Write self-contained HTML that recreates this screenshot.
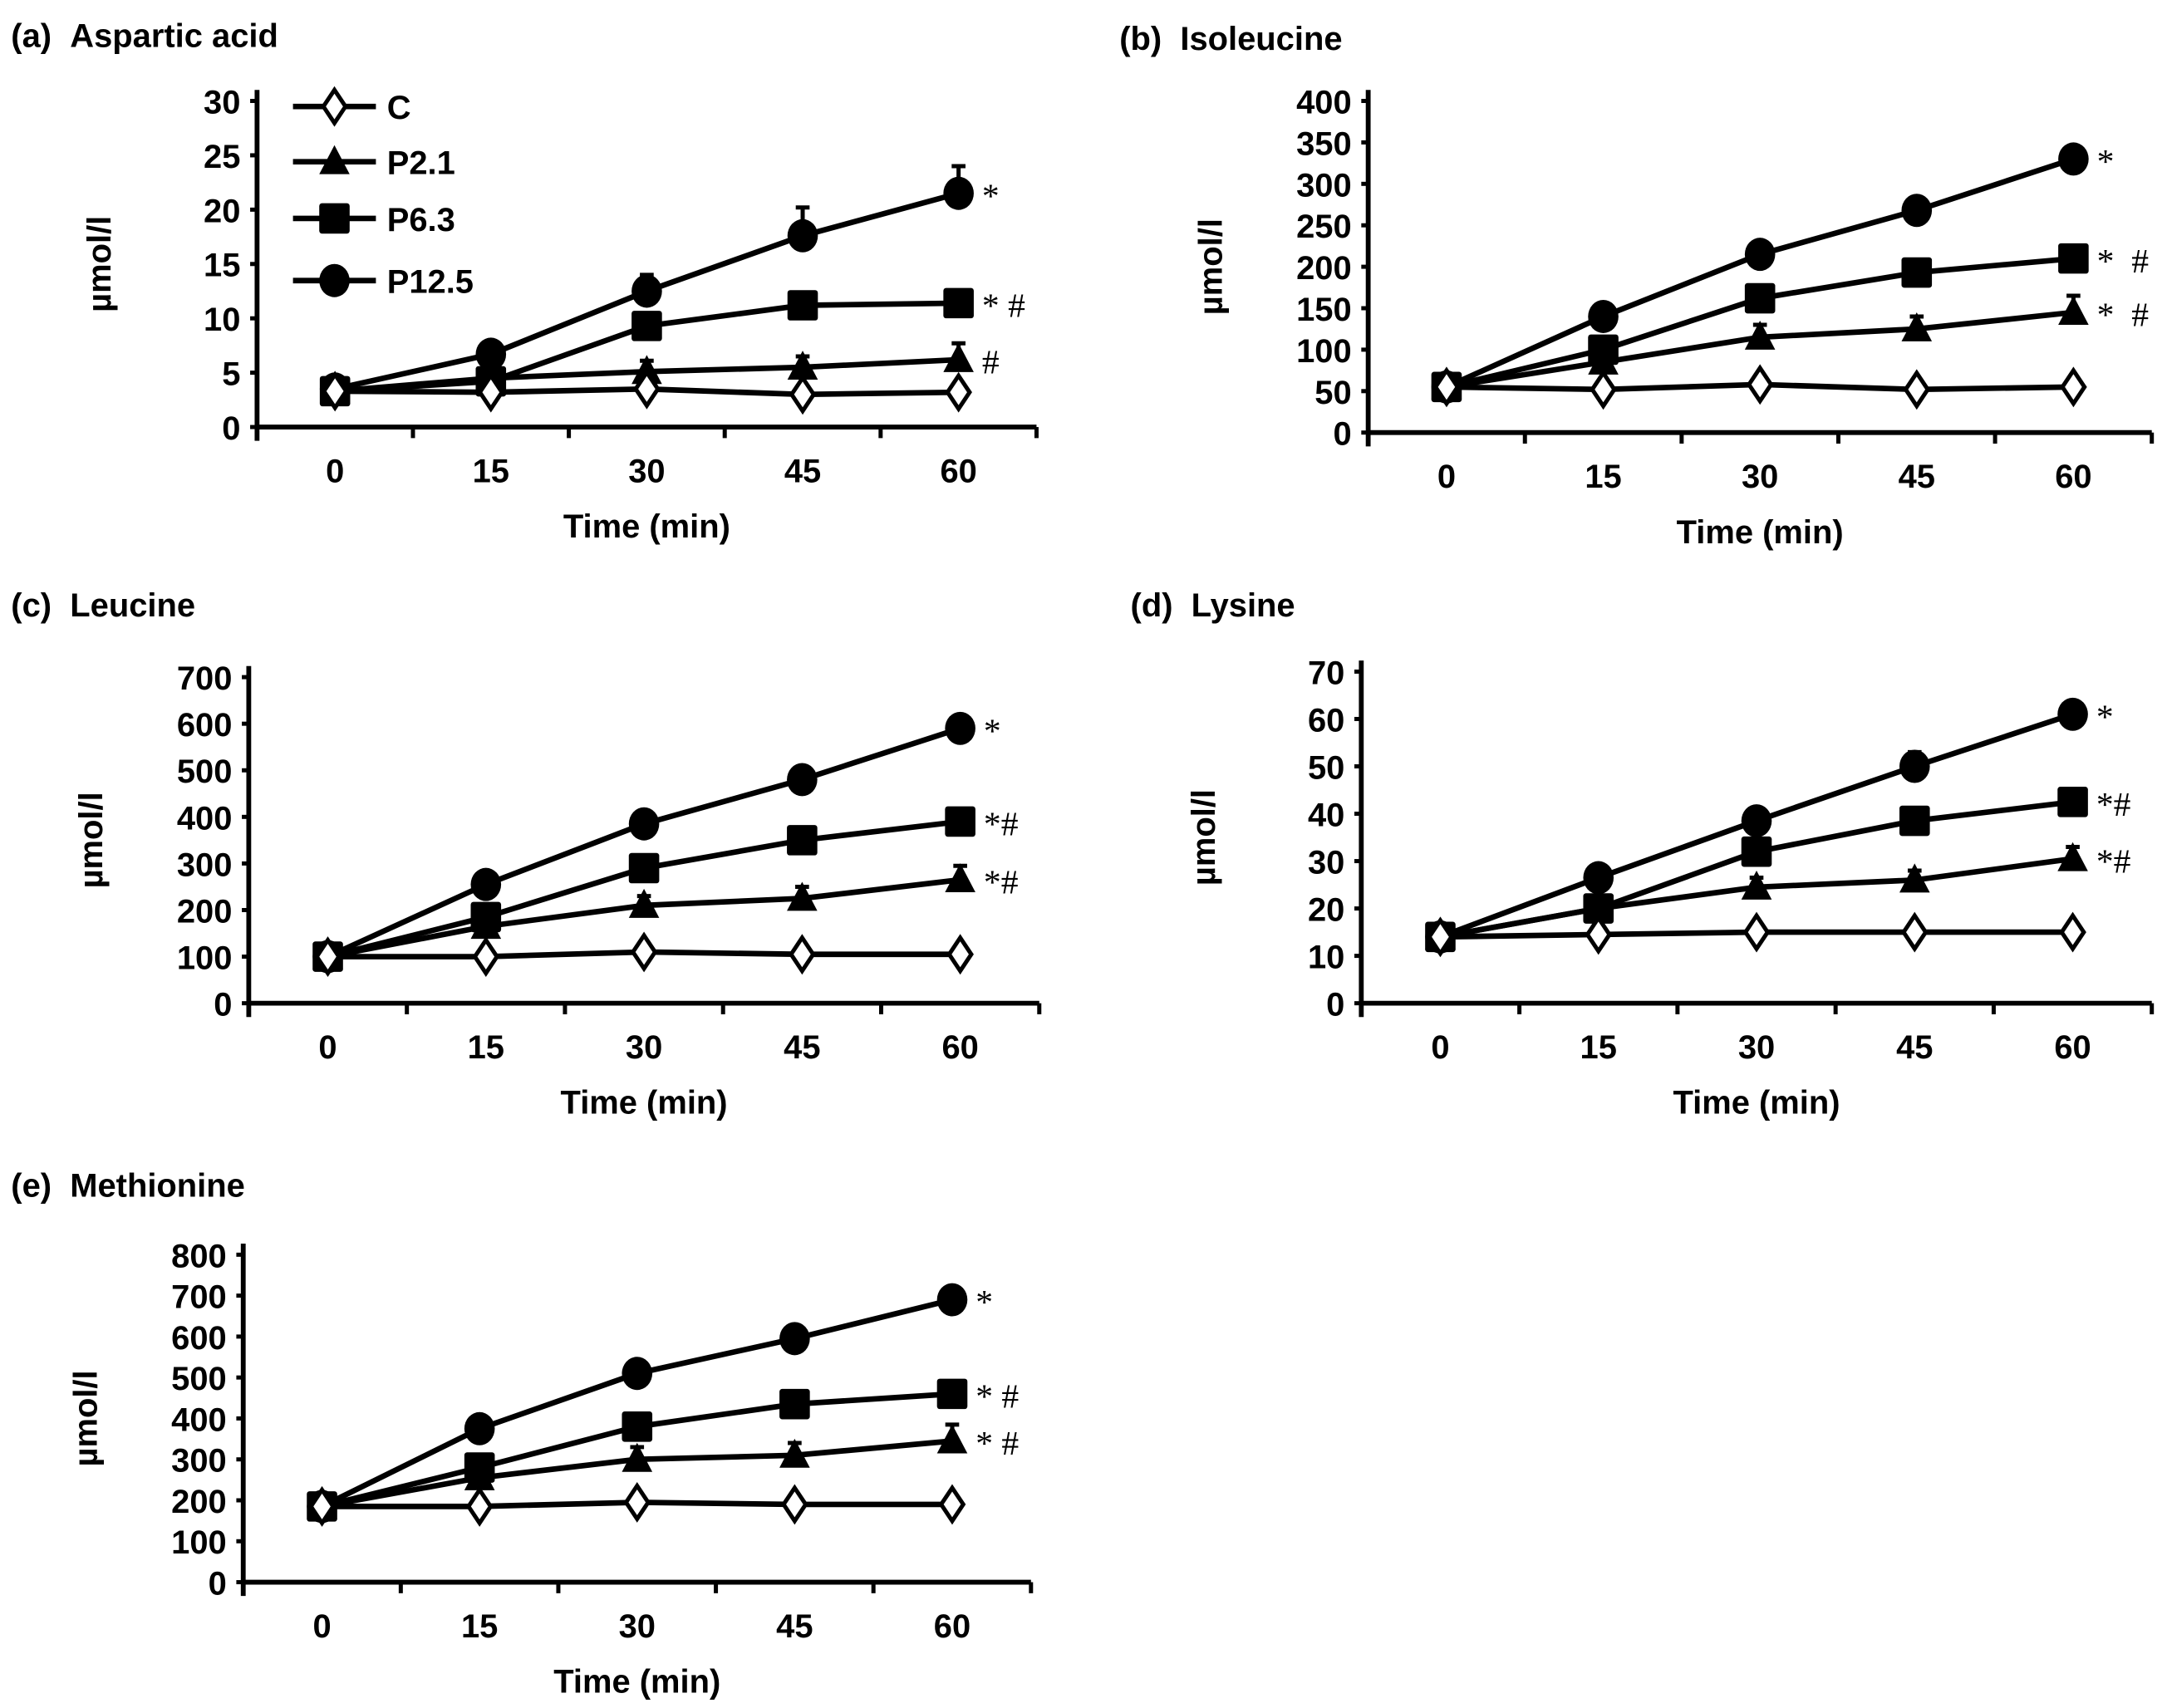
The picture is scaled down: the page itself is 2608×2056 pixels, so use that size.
<!DOCTYPE html>
<html><head><meta charset="utf-8">
<style>
html,body{margin:0;padding:0;background:#fff;}
svg{display:block;font-family:"Liberation Sans",Arial,sans-serif;}
</style></head>
<body>
<svg id="fig" width="2608" height="2056" viewBox="0 0 1568 1236" xmlns="http://www.w3.org/2000/svg">
<rect width="1568" height="1236" fill="#fff"/>
</svg>
<script>
const categories = ["0","15","30","45","60"];
const seriesNames = ["C","P2.1","P6.3","P12.5"];
const markers = ["diamond","triangle","square","circle"];

const aspC = [3.3,3.2,3.5,3.0,3.2];
const aspP21 = [3.3,4.5,5.1,5.5,6.2];
const aspP63 = [3.3,4.2,9.3,11.2,11.4];
const aspP125 = [3.5,6.7,12.5,17.6,21.5];
const aspErr = [[0.3,0.2,0.3,0.3,0.3],[0.3,0.5,1.0,1.0,1.5],[0.3,0.4,0.6,0.6,0.8],[0.3,0.8,1.5,2.6,2.5]];

const ileC = [55,52,58,52,55];
const ileP21 = [55,85,115,125,145];
const ileP63 = [55,100,162,193,210];
const ileP125 = [55,140,215,268,330];
const ileErr = [[5,5,5,5,5],[5,8,15,15,20],[5,10,10,8,10],[5,12,8,12,12]];

const leuC = [100,100,110,105,105];
const leuP21 = [100,165,210,225,265];
const leuP63 = [100,185,290,350,390];
const leuP125 = [100,255,385,480,590];
const leuErr = [[10,8,8,8,8],[10,15,20,25,30],[10,15,15,15,15],[10,15,15,25,25]];

const lysC = [14,14.5,15,15,15];
const lysP21 = [14,20,24.5,26,30.5];
const lysP63 = [14,20,32,38.5,42.5];
const lysP125 = [14,26.5,38.5,50,61];
const lysErr = [[1,1,1,1,1],[1,2,2,2,2.5],[1,2,2,1.5,1.5],[1,1.5,1.5,3,2.5]];

const metC = [185,185,195,190,190];
const metP21 = [185,255,300,310,345];
const metP63 = [185,280,380,435,460];
const metP125 = [185,375,510,595,690];
const metErr = [[10,10,10,10,10],[10,20,30,30,40],[10,20,25,20,20],[10,15,20,30,30]];

const yTicksA = [0,5,10,15,20,25,30];
const yTicksB = [0,50,100,150,200,250,300,350,400];
const yTicksC = [0,100,200,300,400,500,600,700];
const yTicksD = [0,10,20,30,40,50,60,70];
const yTicksE = [0,100,200,300,400,500,600,700,800];

const annotA = ["", "#", "*\u00a0#", "*"];
const annotB = ["", "*\u00a0\u00a0#", "*\u00a0\u00a0#", "*"];
const annotC = ["", "*#", "*#", "*"];
const annotD = ["", "*#", "*#", "*"];
const annotE = ["", "*\u00a0#", "*\u00a0#", "*"];

const NS = "http://www.w3.org/2000/svg";
const svg = document.getElementById("fig");
function el(tag, attrs, parent){
  const e = document.createElementNS(NS, tag);
  for (const k in attrs) e.setAttribute(k, attrs[k]);
  (parent||svg).appendChild(e);
  return e;
}
function drawMarker(g, type, x, y){
  let m;
  if (type==="diamond") m = el("polygon",{points:`${x},${y-12} ${x+8},${y} ${x},${y+12} ${x-8},${y}`,fill:"#fff",stroke:"#000","stroke-width":3},g);
  else if (type==="triangle") m = el("polygon",{points:`${x},${y-12} ${x+11},${y+9} ${x-11},${y+9}`,fill:"#000"},g);
  else if (type==="square") m = el("rect",{x:x-11,y:y-11,width:22,height:22,rx:2,fill:"#000"},g);
  else m = el("ellipse",{cx:x,cy:y,rx:11,ry:12,fill:"#000"},g);
  return m;
}

const panels = [
 {id:"a", title:"(a)\u00a0\u00a0Aspartic acid", tx:8, ty:34, left:186, right:750, top:73, bottom:309, max:30, ticks:yTicksA, series:[aspC,aspP21,aspP63,aspP125], err:aspErr, annot:annotA, legend:true},
 {id:"b", title:"(b)\u00a0\u00a0Isoleucine", tx:810, ty:36, left:990, right:1557, top:73, bottom:313, max:400, ticks:yTicksB, series:[ileC,ileP21,ileP63,ileP125], err:ileErr, annot:annotB},
 {id:"c", title:"(c)\u00a0\u00a0Leucine", tx:8, ty:446, left:180, right:752, top:490, bottom:726, max:700, ticks:yTicksC, series:[leuC,leuP21,leuP63,leuP125], err:leuErr, annot:annotC},
 {id:"d", title:"(d)\u00a0\u00a0Lysine", tx:818, ty:446, left:985, right:1557, top:486, bottom:726, max:70, ticks:yTicksD, series:[lysC,lysP21,lysP63,lysP125], err:lysErr, annot:annotD},
 {id:"e", title:"(e)\u00a0\u00a0Methionine", tx:8, ty:866, left:176, right:746, top:908, bottom:1145, max:800, ticks:yTicksE, series:[metC,metP21,metP63,metP125], err:metErr, annot:annotE}
];

panels.forEach(p=>{
  const g = el("g",{});
  
  
  const yS = v => p.bottom - (v/p.max)*(p.bottom-p.top);
  const cw = (p.right-p.left)/categories.length;
  const xS = i => p.left + (i+0.5)*cw;

  const t = el("text",{x:p.tx,y:p.ty,"font-size":24,"font-weight":"bold",fill:"#000"},g);
  t.textContent = p.title;
  
  

  const ya = el("line",{x1:p.left,y1:p.top-8,x2:p.left,y2:p.bottom+10,stroke:"#000","stroke-width":3.5},g);
  
  
  p.ticks.forEach(v=>{
    el("line",{x1:p.left-5,y1:yS(v),x2:p.left,y2:yS(v),stroke:"#000","stroke-width":3},g);
    const tl = el("text",{x:p.left-12,y:yS(v)+9,"font-size":24,"font-weight":"bold","text-anchor":"end"},g);
    tl.textContent = v;
    
    
  });
  const xa = el("line",{x1:p.left,y1:p.bottom,x2:p.right,y2:p.bottom,stroke:"#000","stroke-width":3.5},g);
  
  
  for (let i=0;i<=categories.length;i++){
    el("line",{x1:p.left+i*cw,y1:p.bottom,x2:p.left+i*cw,y2:p.bottom+8,stroke:"#000","stroke-width":3},g);
  }
  categories.forEach((c,i)=>{
    const tl = el("text",{x:xS(i),y:p.bottom+40,"font-size":24,"font-weight":"bold","text-anchor":"middle"},g);
    tl.textContent = c;
    
    
  });
  const xt = el("text",{x:(p.left+p.right)/2,y:p.bottom+80,"font-size":24,"font-weight":"bold","text-anchor":"middle"},g);
  xt.textContent = "Time (min)";
  
  
  const cy = (p.top+p.bottom)/2, cx = p.left-106;
  const yt = el("text",{x:cx,y:cy,"font-size":24,"font-weight":"bold","text-anchor":"middle",transform:`rotate(-90 ${cx} ${cy})`},g);
  yt.textContent = "µmol/l";
  
  

  [3,2,1,0].forEach(s=>{
    const vals = p.series[s];
    const sg = el("g",{},g);
    
    
    vals.forEach((v,i)=>{
      const e = p.err[s][i];
      const eb = el("path",{d:`M${xS(i)},${yS(v)} V${yS(v+e)} M${xS(i)-5},${yS(v+e)} H${xS(i)+5}`,stroke:"#000","stroke-width":3,fill:"none"},sg);
      
      
    });
    const pl = el("polyline",{points:vals.map((v,i)=>`${xS(i)},${yS(v)}`).join(" "),fill:"none",stroke:"#000","stroke-width":4},sg);
    
    
    vals.forEach((v,i)=>{
      const m = drawMarker(sg, markers[s], xS(i), yS(v));
      
      
    });
    if (p.annot[s]){
      const last = vals[vals.length-1];
      const at = el("text",{x:xS(4)+17,y:yS(last)+10,"font-size":25,"font-family":"Liberation Serif, serif"},g);
      at.textContent = p.annot[s];
      
      
    }
  });

  if (p.legend){
    const lg = el("g",{},g);
    
    
    const ly = [77,117,158,203];
    seriesNames.forEach((n,s)=>{
      const le = el("g",{},lg);
      
      
      el("line",{x1:212,y1:ly[s],x2:272,y2:ly[s],stroke:"#000","stroke-width":4},le);
      drawMarker(le, markers[s], 242, ly[s]);
      const lt = el("text",{x:280,y:ly[s]+9,"font-size":24,"font-weight":"bold"},le);
      lt.textContent = n;
    });
  }
});
</script>
</body></html>
